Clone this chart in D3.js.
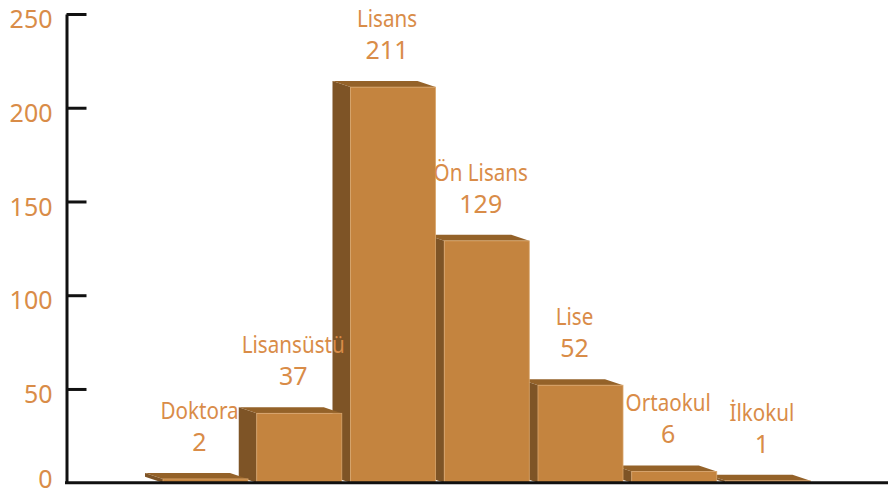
<!DOCTYPE html>
<html lang="tr">

<head>
	<meta charset="utf-8">
	<title>Eğitim Durumu</title>
	<script src="https://d3js.org/d3.v7.min.js"></script>
	<style>
		body { margin: 0; background: #fff; }
		svg { display: block; }
		text { font-family: "Noto Sans", "Open Sans", sans-serif; }
	</style>
</head>

<body>
	<div id="chart"></div>

	<script>
		// data
		const categories = ["Doktora", "Lisansüstü", "Lisans", "Ön Lisans", "Lise", "Ortaokul", "İlkokul"];
		const values = [2, 37, 211, 129, 52, 6, 1];
		const yTicks = [0, 50, 100, 150, 200, 250];

		const width = 888, height = 495;
		const depthX = 18, depthY = 6; // fake 3d offset of the boxes

		const colFront = "#c4843f", colSide = "#7e5426", colTop = "#946229";
		const colText = "#d98c48";

		const svg = d3.select("#chart").append("svg")
			.attr("width", width)
			.attr("height", height);

		const x = d3.scaleBand()
			.domain(categories)
			.range([163, 810.5])
			.paddingInner(0.093)
			.paddingOuter(0);

		const y = d3.scaleLinear()
			.domain([0, 250])
			.range([482.7, 14]);

		const data = categories.map((c, i) => ({ name: c, value: values[i] }));

		// draw right to left so the left box hides the next one's side
		const bars = svg.append("g")
			.selectAll("g")
			.data(data.slice().reverse())
			.join("g");

		const base = y(0);

		bars.append("path")
			.attr("fill", colSide)
			.attr("d", d => {
				const x0 = x(d.name), t = y(d.value);
				return `M${x0},${t}L${x0 - depthX},${t - depthY}L${x0 - depthX},${base - depthY}L${x0},${base}Z`;
			});

		bars.append("path")
			.attr("fill", colTop)
			.attr("d", d => {
				const x0 = x(d.name), x1 = x0 + x.bandwidth(), t = y(d.value);
				return `M${x0},${t}L${x0 - depthX},${t - depthY}L${x1 - depthX},${t - depthY}L${x1},${t}Z`;
			});

		bars.append("rect")
			.attr("fill", colFront)
			.attr("stroke", "#d9a66d")
			.attr("stroke-width", 0.8)
			.attr("x", d => x(d.name))
			.attr("y", d => y(d.value))
			.attr("width", x.bandwidth())
			.attr("height", d => base - y(d.value));

		// labels above each bar
		const labels = svg.append("g")
			.attr("fill", colText)
			.attr("text-anchor", "middle")
			.selectAll("g")
			.data(data)
			.join("g")
			.attr("transform", d => `translate(${x(d.name) + x.bandwidth() / 2 - 6},${y(d.value) - depthY - 22})`);

		// names: narrowed a bit to look like the original's condensed face
		labels.append("text")
			.attr("transform", "translate(0,-32) scale(0.86,1)")
			.attr("font-size", 24)
			.text(d => d.name);

		labels.append("text")
			.attr("font-size", 25)
			.text(d => d.value);

		// y axis
		const yAxis = svg.append("g")
			.attr("transform", "translate(66.5,0)")
			.call(d3.axisLeft(y).tickValues(yTicks).tickSize(-20).tickPadding(14).tickSizeOuter(0));

		yAxis.select(".domain").attr("stroke", "#111").attr("stroke-width", 3);
		yAxis.selectAll(".tick line").attr("stroke", "#111").attr("stroke-width", 3);
		yAxis.selectAll(".tick text")
			.attr("fill", colText)
			.attr("font-size", 25)
			.attr("font-family", "\"Noto Sans\", sans-serif")
			.attr("x", -14)
			.attr("dy", d => d === 0 ? "0.18em" : "0.55em");

		yAxis.selectAll(".tick").filter(d => d === 0).select("line").remove();

		// baseline
		svg.append("line")
			.attr("x1", 65)
			.attr("x2", width)
			.attr("y1", base)
			.attr("y2", base)
			.attr("stroke", "#111")
			.attr("stroke-width", 3);
	</script>
</body>

</html>
